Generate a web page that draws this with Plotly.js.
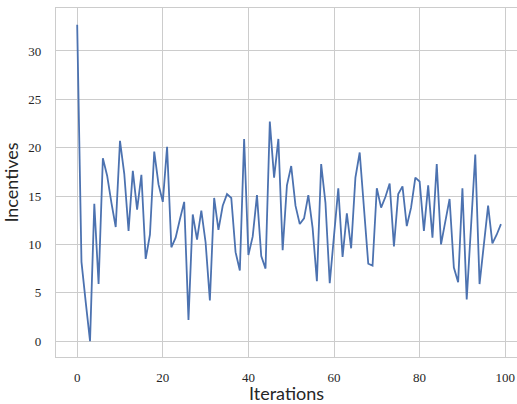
<!DOCTYPE html>
<html>
<head>
<meta charset="utf-8">
<script src="https://cdn.plot.ly/plotly-3.0.1.min.js"></script>
<style>html,body{margin:0;padding:0;background:#fff;}#chart{width:517px;height:404px;}</style>
</head>
<body>
<div id="chart"></div>
<script>
const iterations = [0,1,2,3,4,5,6,7,8,9,10,11,12,13,14,15,16,17,18,19,
  20,21,22,23,24,25,26,27,28,29,30,31,32,33,34,35,36,37,38,39,
  40,41,42,43,44,45,46,47,48,49,50,51,52,53,54,55,56,57,58,59,
  60,61,62,63,64,65,66,67,68,69,70,71,72,73,74,75,76,77,78,79,
  80,81,82,83,84,85,86,87,88,89,90,91,92,93,94,95,96,97,98,99];
const incentives = [32.7,8.2,4.0,0.0,14.2,5.9,18.9,17.1,14.3,11.8,
  20.7,17.3,11.4,17.6,13.6,17.2,8.5,11.0,19.6,16.2,
  14.4,20.1,9.7,10.7,12.6,14.4,2.2,13.1,10.5,13.5,
  10.2,4.2,14.8,11.5,14.0,15.2,14.8,9.2,7.3,20.9,
  8.9,10.8,15.1,8.8,7.5,22.7,16.9,20.9,9.4,16.1,
  18.1,14.0,12.1,12.7,15.1,11.7,6.2,18.3,14.3,6.0,
  10.9,15.8,8.7,13.2,9.6,16.9,19.5,13.6,8.0,7.8,
  15.8,13.8,14.9,16.3,9.8,15.2,16.0,11.9,13.8,16.9,
  16.5,11.4,16.1,10.7,18.3,10.0,12.4,14.7,7.6,6.1,
  15.8,4.3,11.8,19.3,5.9,10.2,14.0,10.1,11.0,12.1];
const xTicks = [0,20,40,60,80,100];
const yTicks = [0,5,10,15,20,25,30];

const serif = '"Liberation Serif", "DejaVu Serif", serif';
const sans = 'Lato, "Open Sans", sans-serif';

const trace = {
  x: iterations, y: incentives, type: 'scatter', mode: 'lines',
  line: {color: '#4c72b0', width: 1.8}, hoverinfo: 'skip'
};
const layout = {
  width: 517, height: 404,
  margin: {l: 56, r: 0, t: 8, b: 47},
  paper_bgcolor: '#ffffff', plot_bgcolor: '#ffffff',
  showlegend: false,
  font: {family: serif, color: '#262626', size: 13},
  xaxis: {
    range: [-4.95, 102.75], tickvals: xTicks, ticktext: xTicks.map(String),
    showgrid: true, gridcolor: '#cccccc', gridwidth: 1, zeroline: false,
    showline: true, linecolor: '#cccccc', linewidth: 1.2, mirror: true,
    ticks: '', ticklabelstandoff: 8,
    tickfont: {family: serif, size: 13, color: '#262626'},
    title: {text: 'Iterations', standoff: 8, font: {family: sans, size: 18, color: '#262626'}}
  },
  yaxis: {
    range: [-1.64, 34.44], tickvals: yTicks, ticktext: yTicks.map(String),
    showgrid: true, gridcolor: '#cccccc', gridwidth: 1, zeroline: false,
    showline: true, linecolor: '#cccccc', linewidth: 1.2, mirror: true,
    ticks: '', ticklabelstandoff: 11,
    tickfont: {family: serif, size: 13, color: '#262626'},
    title: {text: 'Incentives', standoff: 8, font: {family: sans, size: 18, color: '#262626'}}
  }
};
Plotly.newPlot('chart', [trace], layout, {staticPlot: true, displayModeBar: false});
</script>
</body>
</html>
